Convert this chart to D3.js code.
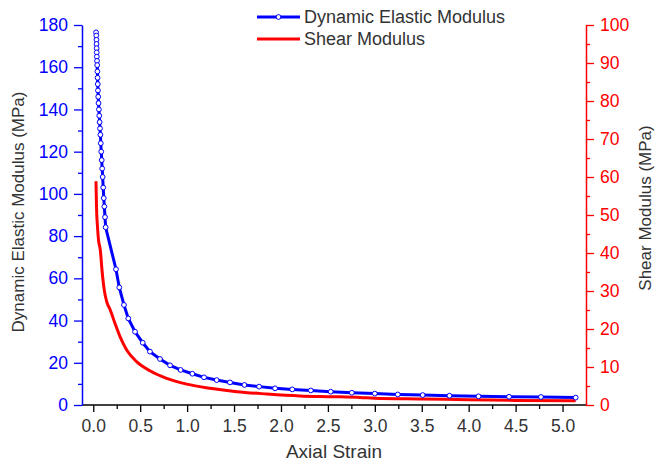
<!DOCTYPE html>
<html>
<head>
<meta charset="utf-8">
<script src="https://cdn.jsdelivr.net/npm/d3@7"></script>
<style>
  body { margin: 0; background: #fff; }
  text { font-family: "Liberation Sans", Arial, sans-serif; }
</style>
</head>
<body>
<svg id="svg" width="669" height="463"></svg>
<script>
// data
const elasticStrain = [0.030, 0.032, 0.034, 0.035, 0.036, 0.037, 0.038, 0.040, 0.042, 0.044, 0.046, 0.048, 0.050, 0.053, 0.056,
  0.060, 0.064, 0.068, 0.072, 0.076, 0.080, 0.085, 0.090, 0.095, 0.100, 0.106, 0.112, 0.118, 0.125, 0.132,
  0.242, 0.277, 0.327, 0.373, 0.445, 0.527, 0.604, 0.711, 0.818, 0.931, 1.056, 1.180, 1.315, 1.457, 1.610,
  1.767, 1.937, 2.120, 2.318, 2.530, 2.755, 3.000, 3.245, 3.510, 3.795, 4.105, 4.430, 4.770, 5.140];
const elasticModulus = [176.5, 175, 173, 171, 169, 167, 165, 163, 161, 158, 155, 152, 149, 146, 143,
  140, 137, 134, 131, 128, 124, 120, 116, 112, 108, 103, 98, 94, 89, 84.2,
  64.3, 55.7, 47.4, 41.0, 34.7, 29.5, 25.3, 21.8, 18.8, 16.6, 14.8, 13.1, 11.8, 10.7, 9.5,
  8.7, 7.9, 7.4, 6.9, 6.3, 5.8, 5.4, 5.0, 4.7, 4.4, 4.1, 3.9, 3.8, 3.5];

const shearStrain = [0.029, 0.035, 0.045, 0.056, 0.075, 0.095, 0.117, 0.143, 0.178, 0.231, 0.285, 0.356, 0.462,
  0.604, 0.782, 0.995, 1.244, 1.530, 1.850, 2.200, 2.560, 2.840, 3.000, 3.500, 4.000, 4.500, 5.140];
const shearModulus = [58.9, 51.8, 46.9, 43.4, 40.8, 35.0, 30.3, 27.2, 25.2, 21.5, 18.0, 14.5, 11.4,
  9.0, 7.0, 5.5, 4.4, 3.5, 2.9, 2.4, 2.2, 2.0, 1.8, 1.6, 1.4, 1.2, 1.1];

const xTicks = [0, 0.5, 1, 1.5, 2, 2.5, 3, 3.5, 4, 4.5, 5];
const leftTicks = [0, 20, 40, 60, 80, 100, 120, 140, 160, 180];
const rightTicks = [0, 10, 20, 30, 40, 50, 60, 70, 80, 90, 100];

const seriesNames = ["Dynamic Elastic Modulus", "Shear Modulus"];

//Layout
const LEFT = 82, RIGHT = 586, TOP = 25, BOTTOM = 405;
const BLUE = "#0000ff", RED = "#ff0000", GREY = "#333333";

const svg = d3.select("svg");

const x = d3.scaleLinear().domain([-0.12, 5.25]).range([LEFT, RIGHT]);
const yL = d3.scaleLinear().domain([0, 180]).range([BOTTOM, TOP]);
const yR = d3.scaleLinear().domain([0, 100]).range([BOTTOM, TOP]);

//Minor ticks first
svg.append("g")
  .attr("transform", "translate(0," + BOTTOM + ")")
  .call(d3.axisBottom(x).tickValues(d3.range(0.25, 5.25, 0.5)).tickSize(4).tickFormat("").tickSizeOuter(0))
  .call(g => g.select(".domain").remove())
  .call(g => g.selectAll("line").attr("stroke", "#000").attr("stroke-width", 1.3));

svg.append("g")
  .attr("transform", "translate(" + LEFT + ",0)")
  .call(d3.axisLeft(yL).tickValues(d3.range(10, 180, 20)).tickSize(4).tickFormat(""))
  .call(g => g.select(".domain").remove())
  .call(g => g.selectAll("line").attr("stroke", BLUE).attr("stroke-width", 1.3));

svg.append("g")
  .attr("transform", "translate(" + RIGHT + ",0)")
  .call(d3.axisRight(yR).tickValues(d3.range(5, 100, 10)).tickSize(4).tickFormat(""))
  .call(g => g.select(".domain").remove())
  .call(g => g.selectAll("line").attr("stroke", RED).attr("stroke-width", 1.3));

//Major axes
const xAxis = svg.append("g")
  .attr("transform", "translate(0," + BOTTOM + ")")
  .call(d3.axisBottom(x).tickValues(xTicks).tickSize(7).tickSizeOuter(0).tickPadding(8).tickFormat(d3.format(".1f")));
xAxis.select(".domain").attr("stroke", "#000").attr("stroke-width", 1.5).attr("d", "M" + LEFT + ",0H" + RIGHT);
xAxis.selectAll("line").attr("stroke", "#000").attr("stroke-width", 1.3);
xAxis.selectAll("text").attr("fill", GREY).style("font-size", "17.5px");

const leftAxis = svg.append("g")
  .attr("transform", "translate(" + LEFT + ",0)")
  .call(d3.axisLeft(yL).tickValues(leftTicks).tickSize(8).tickSizeOuter(0).tickPadding(6));
leftAxis.select(".domain").attr("stroke", BLUE).attr("stroke-width", 1.5);
leftAxis.selectAll("line").attr("stroke", BLUE).attr("stroke-width", 1.3);
leftAxis.selectAll("text").attr("fill", BLUE).style("font-size", "17.5px");

const rightAxis = svg.append("g")
  .attr("transform", "translate(" + RIGHT + ",0)")
  .call(d3.axisRight(yR).tickValues(rightTicks).tickSize(8).tickSizeOuter(0).tickPadding(6));
rightAxis.select(".domain").attr("stroke", RED).attr("stroke-width", 1.5);
rightAxis.selectAll("line").attr("stroke", RED).attr("stroke-width", 1.3);
rightAxis.selectAll("text").attr("fill", RED).style("font-size", "17.5px");

//Axis titles
svg.append("text")
  .attr("x", 334).attr("y", 458)
  .attr("text-anchor", "middle").attr("fill", GREY).style("font-size", "19px")
  .text("Axial Strain");

svg.append("text")
  .attr("transform", "translate(24," + 212 + ") rotate(-90)")
  .attr("text-anchor", "middle").attr("fill", GREY).style("font-size", "17px")
  .text("Dynamic Elastic Modulus (MPa)");

svg.append("text")
  .attr("transform", "translate(651," + 208 + ") rotate(-90)")
  .attr("text-anchor", "middle").attr("fill", GREY).style("font-size", "17px")
  .text("Shear Modulus (MPa)");

//Lines
const shearPts = shearStrain.map((s, i) => [s, shearModulus[i]]);
const elasticPts = elasticStrain.map((s, i) => [s, elasticModulus[i]]);

svg.append("path")
  .attr("d", d3.line().x(d => x(d[0])).y(d => yR(d[1])).curve(d3.curveMonotoneX)(shearPts))
  .attr("fill", "none").attr("stroke", RED).attr("stroke-width", 3);

svg.append("path")
  .attr("d", d3.line().x(d => x(d[0])).y(d => yL(d[1]))(elasticPts))
  .attr("fill", "none").attr("stroke", BLUE).attr("stroke-width", 3);

svg.append("g").selectAll("circle")
  .data(elasticPts)
  .enter().append("circle")
  .attr("cx", d => x(d[0]))
  .attr("cy", d => yL(d[1]))
  .attr("r", 2.4)
  .attr("fill", "#fff")
  .attr("stroke", BLUE)
  .attr("stroke-width", 1);

//Legend
const legend = svg.append("g");
[BLUE, RED].forEach((c, i) => {
  const ly = 17 + i * 22;
  legend.append("line").attr("x1", 257).attr("x2", 300).attr("y1", ly).attr("y2", ly)
    .attr("stroke", c).attr("stroke-width", 3);
  if (i === 0) {
    legend.append("circle").attr("cx", 278.5).attr("cy", ly).attr("r", 2.4)
      .attr("fill", "#fff").attr("stroke", BLUE);
  }
  legend.append("text").attr("x", 304).attr("y", ly + 6)
    .attr("fill", GREY).style("font-size", "18px")
    .text(seriesNames[i]);
});
</script>
</body>
</html>
